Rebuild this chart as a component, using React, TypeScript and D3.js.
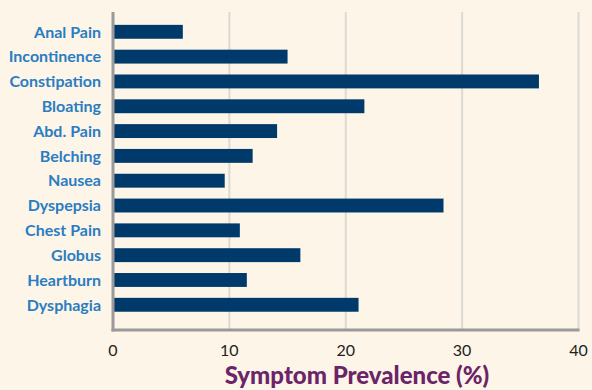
import React from "react";
import * as d3 from "d3";

const categories = ["Anal Pain","Incontinence","Constipation","Bloating","Abd. Pain","Belching","Nausea","Dyspepsia","Chest Pain","Globus","Heartburn","Dysphagia"];
const values = [6.0, 15.0, 36.6, 21.6, 14.1, 12.0, 9.6, 28.4, 10.9, 16.1, 11.5, 21.1];
const xTicks = [0, 10, 20, 30, 40];
const xTitle = "Symptom Prevalence (%)";

export default function App() {
  const W = 592, H = 390;
  const x0 = 113, x1 = 578.5;
  const top = 12, bottom = 330;
  const x = d3.scaleLinear().domain([0, 40]).range([x0, x1]);
  const y = d3.scaleBand().domain(categories).range([19.4, 317.2]).paddingInner(0.44).paddingOuter(0.22);
  return (
    <svg width={W} height={H} style={{ position: "absolute", left: 0, top: 0, display: "block" }}>
      <rect x={0} y={0} width={W} height={H} fill="#fcf5e8" />
      {xTicks.slice(1).map(t => (
        <line key={t} x1={x(t)} x2={x(t)} y1={top} y2={bottom} stroke="#dcdad4" strokeWidth={2} />
      ))}
      {categories.map((c, i) => (
        <rect key={c} x={x(0)} y={y(c)} width={x(values[i]) - x(0)} height={y.bandwidth()} fill="#003a6b" />
      ))}
      <line x1={x0} x2={x0} y1={top} y2={bottom + 1.5} stroke="#9a9a9a" strokeWidth={3} />
      <line x1={x0 - 1.5} x2={x1 + 1} y1={bottom} y2={bottom} stroke="#9a9a9a" strokeWidth={3} />
      {categories.map(c => (
        <text key={c} x={101} y={(y(c) as number) + y.bandwidth() / 2} dy="0.36em" textAnchor="end"
          fontFamily="Lato, sans-serif" fontWeight={700} fontSize={16} fill="#2a7dc2">{c}</text>
      ))}
      {xTicks.map(t => (
        <text key={t} x={x(t)} y={356} textAnchor="middle" fontFamily="Lato, sans-serif" fontSize={16} fill="#231f20">{t}</text>
      ))}
      <text x={357} y={384} textAnchor="middle" fontFamily="Lato, sans-serif" fontWeight={900} fontSize={24} fill="#6b2467">{xTitle}</text>
    </svg>
  );
}
